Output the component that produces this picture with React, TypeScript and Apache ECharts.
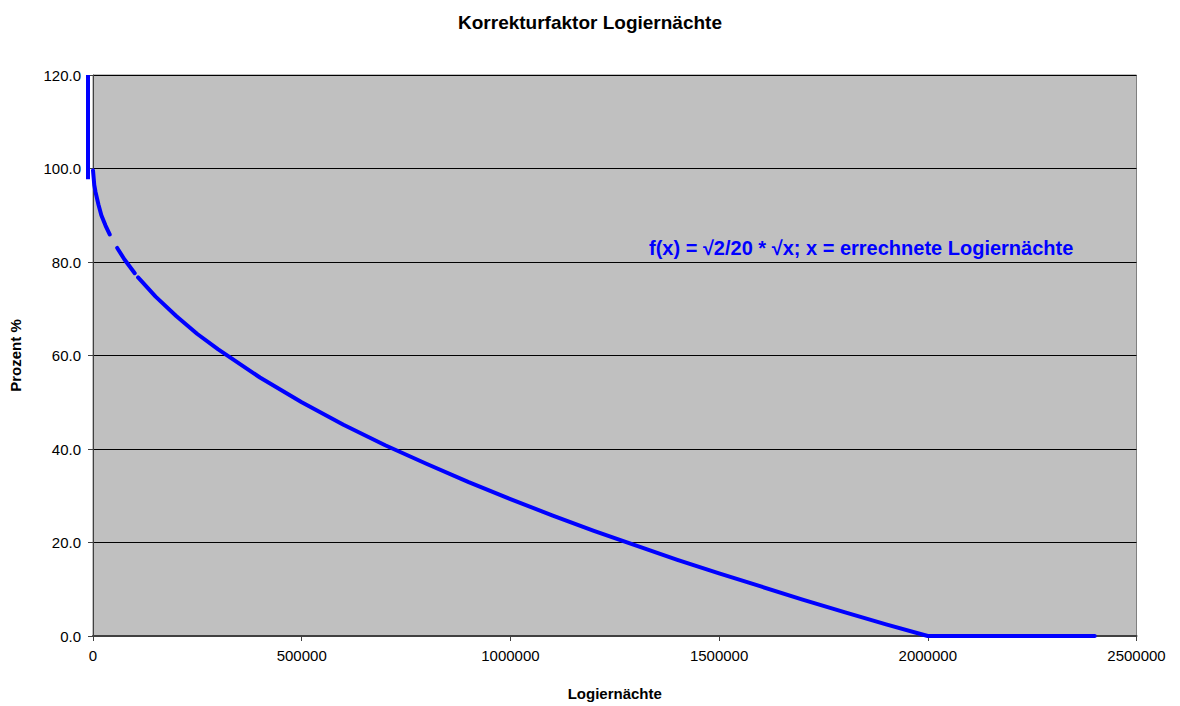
import React, { useEffect, useRef } from "react";
import * as echarts from "echarts";

const xValues = [0, 3000, 6000, 13000, 20000, 30000, 40000, 50000, 58000, 75000, 100000, 104000, 108000, 150000, 200000, 250000, 300000, 400000, 500000, 600000, 700000, 800000, 900000, 1000000, 1100000, 1200000, 1300000, 1400000, 1500000, 1600000, 1700000, 1800000, 1900000, 2000000, 2100000, 2200000, 2300000, 2400000];
const yValues: (number | null)[] = [99.6, 96.5, 95.0, 92.3, 90.0, 87.8, 85.9, null, 83.0, 80.6, 77.6, null, 76.7, 72.6, 68.4, 64.6, 61.3, 55.3, 50.0, 45.2, 40.8, 36.8, 32.9, 29.3, 25.8, 22.5, 19.4, 16.3, 13.4, 10.6, 7.8, 5.1, 2.5, 0.0, 0.0, 0.0, 0.0, 0.0];
const spikeX = [-12000, -12000];
const spikeY = [120, 97.7];

const title = "Korrekturfaktor Logiernächte";
const xName = "Logiernächte";
const yName = "Prozent %";
const note = "f(x) = √2/20 * √x; x = errechnete Logiernächte";

export default function App() {
  const ref = useRef<HTMLDivElement>(null);
  useEffect(() => {
    if (!ref.current) return;
    const chart = echarts.init(ref.current, undefined, { renderer: "svg" });
    const font = "Liberation Sans, Arial, sans-serif";
    chart.setOption({
      animation: false,
      backgroundColor: "#ffffff",
      textStyle: { fontFamily: font },
      title: {
        text: title,
        left: "center",
        top: 8,
        textStyle: { fontFamily: font, fontSize: 19, fontWeight: "bold", color: "#000" },
      },
      grid: {
        left: 89.5,
        right: 43.5,
        top: 75,
        bottom: 62,
        show: true,
        backgroundColor: "#C0C0C0",
        borderColor: "#808080",
        borderWidth: 1,
      },
      xAxis: {
        type: "value",
        min: 0,
        max: 2500000,
        interval: 500000,
        name: xName,
        nameLocation: "middle",
        nameGap: 50,
        nameTextStyle: { fontFamily: font, fontSize: 15, fontWeight: "bold", color: "#000" },
        axisLine: { show: true, lineStyle: { color: "#404040", width: 2 } },
        axisTick: { show: true, length: 5, lineStyle: { color: "#404040" } },
        axisLabel: {
          fontFamily: font,
          fontSize: 15,
          color: "#000",
          margin: 12,
          formatter: (v: number) => String(v),
        },
        splitLine: { show: false },
      },
      yAxis: {
        type: "value",
        min: 0,
        max: 120,
        interval: 20,
        name: yName,
        nameLocation: "middle",
        nameGap: 70,
        nameTextStyle: { fontFamily: font, fontSize: 15, fontWeight: "bold", color: "#000" },
        axisLine: { show: true, lineStyle: { color: "#404040", width: 1 } },
        axisTick: { show: true, length: 5, lineStyle: { color: "#404040" } },
        axisLabel: {
          fontFamily: font,
          fontSize: 15,
          color: "#000",
          margin: 12,
          formatter: (v: number) => v.toFixed(1),
        },
        splitLine: { show: true, lineStyle: { color: "#000", width: 1 } },
      },
      series: [
        {
          type: "line",
          data: xValues.map((x, i) => [x, yValues[i]]),
          showSymbol: false,
          connectNulls: false,
          clip: false,
          lineStyle: { color: "#0000FF", width: 4, cap: "round", join: "round" },
        },
      ],
    });
    const p1 = chart.convertToPixel({ gridIndex: 0 }, [spikeX[0], spikeY[0]]) as number[];
    const p2 = chart.convertToPixel({ gridIndex: 0 }, [spikeX[1], spikeY[1]]) as number[];
    chart.setOption({
      graphic: [
        {
          type: "line",
          shape: { x1: p1[0], y1: p1[1], x2: p2[0], y2: p2[1] },
          style: { stroke: "#0000FF", lineWidth: 4 },
          z: 10,
        },
        {
          type: "text",
          left: 649,
          top: 238,
          z: 10,
          style: {
            text: note,
            fill: "#0000FF",
            font: "bold 20px Liberation Sans, Arial, sans-serif",
          },
        },
      ],
    });
    return () => chart.dispose();
  }, []);
  return <div ref={ref} style={{ width: 1180, height: 706, position: "absolute", left: 0, top: 0 }} />;
}
